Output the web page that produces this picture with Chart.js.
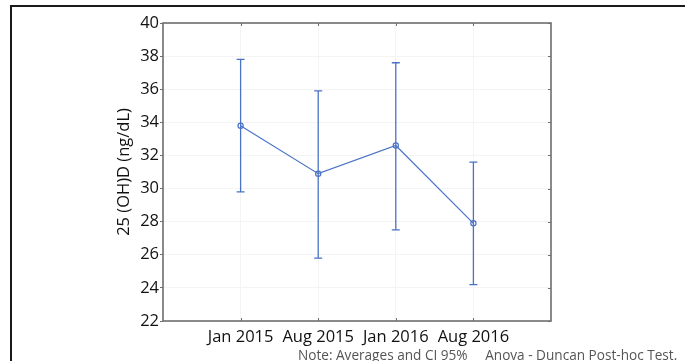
<!DOCTYPE html>
<html>
<head>
<meta charset="utf-8">
<script src="https://cdn.jsdelivr.net/npm/chart.js@4"></script>
<style>
    body { margin: 0; background: #fff; }
    .wrapper { position: relative; width: 685px; height: 361px; overflow: hidden; }
    .frame {
        position: absolute; left: 10px; top: 5px; width: 700px; height: 400px;
        border-left: 2px solid #1a1a1a; border-top: 2px solid #1a1a1a;
    }
    .note {
        position: absolute; left: 298px; top: 348px; white-space: pre;
        font-family: "Open Sans", sans-serif; font-size: 13.6px; line-height: 13px; color: #555;
    }
    #chart { position: absolute; left: 0; top: 0; }
</style>
</head>
<body>
<div class="wrapper">
    <div class="frame"></div>
    <canvas id="chart" width="685" height="361"></canvas>
    <div class="note">Note: Averages and CI 95%     Anova - Duncan Post-hoc Test.</div>
</div>
<script>
const categories = ["Jan 2015", "Aug 2015", "Jan 2016", "Aug 2016"];
const means = [33.8, 30.9, 32.6, 27.9];
const upperCI = [37.8, 35.9, 37.6, 31.6];
const lowerCI = [29.8, 25.8, 27.5, 24.2];
const yTicks = [22, 24, 26, 28, 30, 32, 34, 36, 38, 40];

const BLUE = '#4a72c6';
const BORDER = '#6e6e6e';

// error bars + inner tick marks + box round the plot
const errorBars = {
    id: 'errorBars',
    afterDatasetsDraw(chart) {
        const ctx = chart.ctx;
        const xs = chart.scales.x;
        const ys = chart.scales.y;
        ctx.save();
        ctx.strokeStyle = BLUE;
        ctx.lineWidth = 1.3;
        for (let i = 0; i < means.length; i++) {
            const x = xs.getPixelForValue(i + 1);
            const top = ys.getPixelForValue(upperCI[i]);
            const bot = ys.getPixelForValue(lowerCI[i]);
            ctx.beginPath();
            ctx.moveTo(x, top); ctx.lineTo(x, bot);
            ctx.moveTo(x - 4, top); ctx.lineTo(x + 4, top);
            ctx.moveTo(x - 4, bot); ctx.lineTo(x + 4, bot);
            ctx.stroke();
        }
        ctx.restore();
    },
    afterDraw(chart) {
        const ctx = chart.ctx;
        const a = chart.chartArea;
        const xs = chart.scales.x;
        const ys = chart.scales.y;
        ctx.save();
        ctx.strokeStyle = BORDER;
        ctx.lineWidth = 1;
        ctx.beginPath();
        for (let i = 0; i < categories.length; i++) {
            const x = Math.round(xs.getPixelForValue(i + 1)) + 0.5;
            ctx.moveTo(x, a.top); ctx.lineTo(x, a.top + 3);
            ctx.moveTo(x, a.bottom); ctx.lineTo(x, a.bottom - 3);
        }
        yTicks.forEach(v => {
            const y = Math.round(ys.getPixelForValue(v)) + 0.5;
            ctx.moveTo(a.right, y); ctx.lineTo(a.right - 3, y);
        });
        ctx.stroke();
        ctx.lineWidth = 1.6;
        ctx.strokeRect(a.left, a.top, a.right - a.left, a.bottom - a.top);
        ctx.restore();
    }
};

new Chart(document.getElementById('chart'), {
    type: 'line',
    data: {
        datasets: [{
            data: means.map((m, i) => ({ x: i + 1, y: m })),
            borderColor: BLUE,
            borderWidth: 1.2,
            backgroundColor: 'rgba(255,255,255,0)',
            pointBackgroundColor: 'rgba(255,255,255,0)',
            pointBorderColor: BLUE,
            pointBorderWidth: 1.2,
            pointRadius: 2.6,
            tension: 0,
            fill: false
        }]
    },
    options: {
        responsive: false,
        animation: false,
        layout: { padding: { left: 110, top: 23, right: 134, bottom: 0 } },
        plugins: {
            legend: { display: false },
            tooltip: { enabled: false }
        },
        scales: {
            x: {
                type: 'linear',
                min: 0,
                max: 5,
                afterBuildTicks: (axis) => {
                    axis.ticks = [0, 1, 2, 3, 4, 5].map(v => ({ value: v }));
                },
                afterFit: (axis) => { axis.height = 40; },
                grid: { color: '#f4f4f4', drawTicks: false },
                border: { display: false },
                ticks: {
                    padding: 6,
                    color: '#111',
                    font: { family: 'Open Sans', size: 16.5 },
                    callback: (v) => categories[v - 1] || ''
                }
            },
            y: {
                min: 22,
                max: 40,
                afterBuildTicks: (axis) => {
                    axis.ticks = yTicks.map(v => ({ value: v }));
                },
                afterFit: (axis) => { axis.width = 53; },
                grid: { color: '#f4f4f4', tickColor: BORDER, tickLength: 3 },
                border: { display: false },
                ticks: {
                    padding: 1,
                    color: '#111',
                    font: { family: 'Open Sans', size: 16.5 }
                },
                title: {
                    display: true,
                    text: '25 (OH)D (ng/dL)',
                    color: '#111',
                    font: { family: 'Open Sans', size: 16.5 }
                }
            }
        }
    },
    plugins: [errorBars]
});
</script>
</body>
</html>
